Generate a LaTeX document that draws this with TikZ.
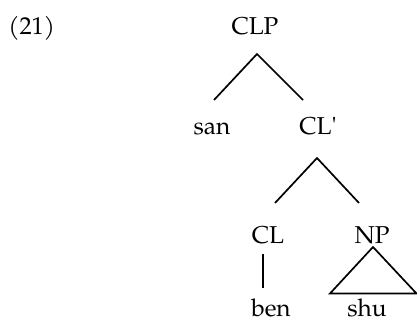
\documentclass[tikz,border=0pt]{standalone}
\usepackage{fontspec}
\setmainfont{TeX Gyre Pagella}
\begin{document}
\begin{tikzpicture}[x=0.5pt,y=-0.5pt,
  lbl/.style={anchor=base,inner sep=0pt,font=\fontsize{12.2}{14}\selectfont},
  branch/.style={line width=0.85pt,line cap=butt}]
\useasboundingbox (0,0) rectangle (417,320);
\node[lbl,anchor=base west] (ex) at (8,35) {(21)};
\node[lbl] (CLP) at (255,35) {CLP};
\node[lbl] (san) at (212,135) {san};
\node[lbl,anchor=base west] (CLbar) at (299,135) {CL\textquotesingle};
\node[lbl] (CL) at (268,243) {CL};
\node[lbl] (NP) at (372,243) {NP};
\node[lbl] (ben) at (271,316) {ben};
\node[lbl] (shu) at (367,316) {shu};
% branch points
\coordinate (clpT) at (257,54);
\coordinate (sanT) at (214,100);
\coordinate (clbarT) at (303,100);
\coordinate (clbarB) at (317,158);
\coordinate (clT) at (275,203);
\coordinate (npT) at (359,203);
\coordinate (clB) at (263,254);
\coordinate (benT) at (263,288);
\coordinate (npB) at (373,247);
\coordinate (triL) at (330,293.5);
\coordinate (triR) at (416.5,293.5);
\draw[branch] (sanT) -- (clpT) -- (clbarT);
\draw[branch] (clT) -- (clbarB) -- (npT);
\draw[branch] (clB) -- (benT);
\draw[branch,line join=miter] (npB) -- (triL) -- (triR) -- cycle;
\end{tikzpicture}
\end{document}
